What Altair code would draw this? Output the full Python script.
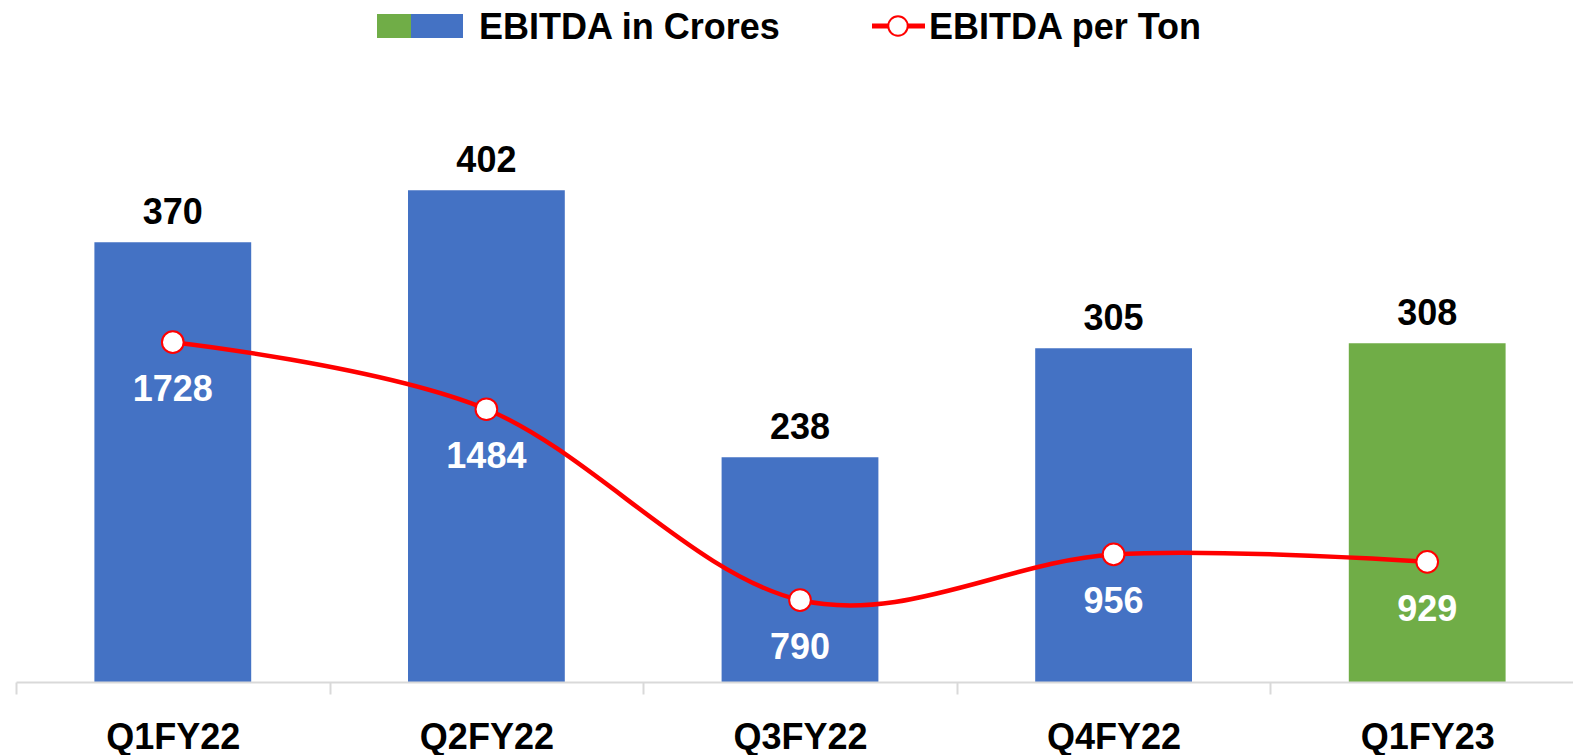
import altair as alt
import pandas as pd

quarters = ["Q1FY22", "Q2FY22", "Q3FY22", "Q4FY22", "Q1FY23"]
ebitda_crores = [370, 402, 238, 305, 308]
ebitda_per_ton = [1728, 1484, 790, 956, 929]
legend_labels = ["EBITDA in Crores", "EBITDA per Ton"]
highlight_quarter = "Q1FY23"

BLUE = "#4472C4"
GREEN = "#70AD47"
RED = "#FF0000"
FONT = "Liberation Sans Narrow, Liberation Sans, sans-serif"
FS = 36

df = pd.DataFrame({"quarter": quarters, "crores": ebitda_crores, "per_ton": ebitda_per_ton})

W, H = 1557, 570
x_enc = alt.X(
    "quarter:N", sort=quarters, title=None,
    scale=alt.Scale(range=[0, 1568], paddingInner=0, paddingOuter=0),
    axis=alt.Axis(labelFont=FONT, labelFontSize=FS, labelFontWeight="bold", labelColor="black",
                  labelPadding=26, tickBand="extent", tickSize=12, tickColor="#D9D9D9", tickWidth=2,
                  domainColor="#D9D9D9", domainWidth=2, labelAngle=0, grid=False, zindex=1),
)

y_bar = alt.Y("crores:Q", axis=None, scale=alt.Scale(domain=[100, 450], zero=False, nice=False))
y_line = alt.Y("per_ton:Q", axis=None, scale=alt.Scale(domain=[492, 2565], zero=False, nice=False))

base = alt.Chart(df)

bars = base.mark_bar(width=alt.RelativeBandSize(0.5)).encode(
    x=x_enc, y=y_bar, y2=alt.datum(100),
    color=alt.condition(alt.datum.quarter == highlight_quarter, alt.value(GREEN), alt.value(BLUE)),
)
bar_text = base.mark_text(font=FONT, fontSize=FS, fontWeight="bold", color="black",
                          baseline="alphabetic", dy=-18).encode(
    x=alt.X("quarter:N", sort=quarters), y=y_bar, text="crores:Q")

bar_layer = alt.layer(bars, bar_text)

line = base.mark_line(color=RED, strokeWidth=4.5, interpolate="cardinal", tension=0).encode(
    x=alt.X("quarter:N", sort=quarters), y=y_line)
pts = base.mark_point(shape="circle", filled=True, fill="white", stroke=RED, strokeWidth=2,
                      size=470, opacity=1).encode(
    x=alt.X("quarter:N", sort=quarters), y=y_line)
line_text = base.mark_text(font=FONT, fontSize=FS, fontWeight="bold", color="white",
                           baseline="alphabetic", dy=59).encode(
    x=alt.X("quarter:N", sort=quarters), y=y_line, text="per_ton:Q")

line_layer = alt.layer(line, pts, line_text)

# manual legend (positions relative to plot origin at (16,112))
one = pd.DataFrame({"label": [legend_labels[0]]})
two = pd.DataFrame({"label": [legend_labels[1]]})
ox, oy = 16, 112
leg_green = alt.Chart(one).mark_rect(color=GREEN).encode(
    x=alt.value(377 - ox), x2=alt.value(411 - ox), y=alt.value(14 - oy), y2=alt.value(38 - oy))
leg_blue = alt.Chart(one).mark_rect(color=BLUE).encode(
    x=alt.value(411 - ox), x2=alt.value(463 - ox), y=alt.value(14 - oy), y2=alt.value(38 - oy))
leg_t1 = alt.Chart(one).mark_text(font=FONT, fontSize=FS, fontWeight="bold", color="black",
                                  align="left", baseline="alphabetic").encode(
    x=alt.value(479 - ox), y=alt.value(39 - oy), text="label:N")
leg_line = alt.Chart(two).mark_rule(color=RED, strokeWidth=5).encode(
    x=alt.value(872 - ox), x2=alt.value(925 - ox), y=alt.value(26 - oy))
leg_pt = alt.Chart(two).mark_point(shape="circle", filled=True, fill="white", stroke=RED,
                                   strokeWidth=2, size=380, opacity=1).encode(
    x=alt.value(898 - ox), y=alt.value(26 - oy))
leg_t2 = alt.Chart(two).mark_text(font=FONT, fontSize=FS, fontWeight="bold", color="black",
                                  align="left", baseline="alphabetic").encode(
    x=alt.value(929 - ox), y=alt.value(39 - oy), text="label:N")

chart = alt.layer(
    bar_layer, line_layer, leg_green, leg_blue, leg_t1, leg_line, leg_pt, leg_t2
).resolve_scale(y="independent").properties(
    width=W, height=H,
    background="white",
    autosize=alt.AutoSizeParams(type="none"),
    padding={"left": 16, "top": 112, "right": 0, "bottom": 73},
).configure_view(strokeWidth=0, stroke="transparent")

chart.save("out.html", embed_options={"renderer": "svg", "actions": False})
